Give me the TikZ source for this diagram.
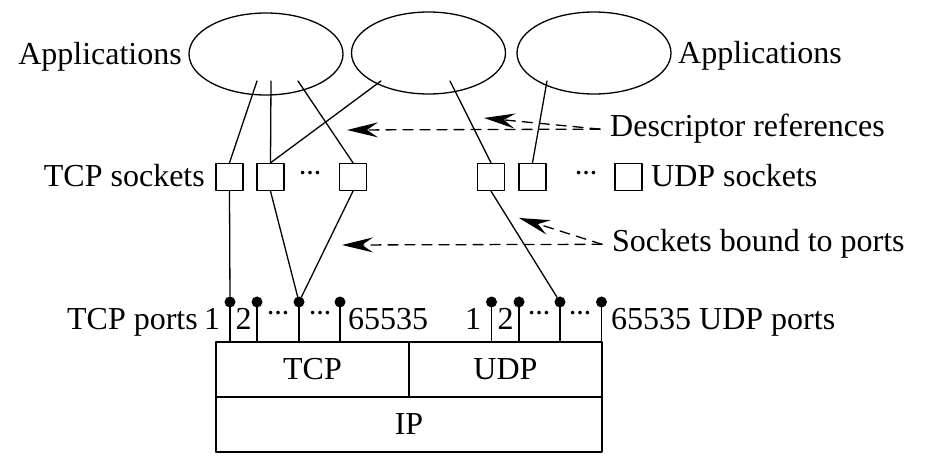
\documentclass[tikz,border=0pt]{standalone}
\usepackage{fontspec}
\setmainfont{Liberation Serif}
\usetikzlibrary{arrows.meta}
\usetikzlibrary{shapes}
\usetikzlibrary{calc}

\begin{document}
\begin{tikzpicture}[
    >=Stealth,
    line cap=round,
    line join=round,
    x=1pt,
    y=-1pt,
    font=\fontsize{32}{38}\selectfont
]

% =========================================================
% Styles
% =========================================================
\tikzset{
    appshape/.style={ellipse,draw,line width=1.3pt,minimum width=154pt,minimum height=82pt,inner sep=0pt},
    sockbox/.style={rectangle,draw,line width=1.3pt,minimum size=27pt,inner sep=0pt},
    portdot/.style={circle,fill,minimum size=11pt,inner sep=0pt},
    layerbox/.style={rectangle,draw,line width=1.3pt,minimum height=55pt,inner sep=0pt},
    conn/.style={line width=1.3pt},
    refarrow/.style={line width=1.3pt,dash pattern=on 10pt off 7pt,-{Stealth[length=31pt,width=15pt,inset=11pt]}},
    labeltext/.style={inner sep=0pt},
    dotstext/.style={inner sep=0pt,font=\fontsize{22}{26}\selectfont\bfseries}
}

\useasboundingbox (0,0) rectangle (932,470);

% =========================================================
% Protocol layers
% =========================================================
\node[layerbox,minimum width=193pt] (tcp) at (312.5,369.5) {TCP};
\node[layerbox,minimum width=193pt] (udp) at (505.5,369.5) {UDP};
\node[layerbox,minimum width=386pt] (ip) at (409,424.5) {IP};

% =========================================================
% Ports
% =========================================================
\foreach \name/\xx in {tp1/230,tp2/257,tp3/299,tp4/340,up1/491.5,up2/519,up3/560,up4/601.5}{
    \node[portdot] (\name) at (\xx,302) {};
    \draw[conn] (\name.center) -- (\name |- tcp.north);
}

% port numbers
\node[labeltext,anchor=base east] (tcpportlab) at (198,330) {TCP ports};
\node[labeltext,anchor=base] (tn1) at (212,330) {1};
\node[labeltext,anchor=base] (tn2) at (243.5,330) {2};
\node[dotstext,anchor=base] (tdots1) at (278,315) {…};
\node[dotstext,anchor=base] (tdots2) at (320,315) {…};
\node[labeltext,anchor=base west] (tnlast) at (348,330) {65535};
\node[labeltext,anchor=base] (un1) at (473,330) {1};
\node[labeltext,anchor=base] (un2) at (505.5,330) {2};
\node[dotstext,anchor=base] (udots1) at (539,315) {…};
\node[dotstext,anchor=base] (udots2) at (580,315) {…};
\node[labeltext,anchor=base west] (unlast) at (611,330) {65535 UDP ports};

% =========================================================
% Sockets
% =========================================================
\foreach \name/\xx in {ts1/229.5,ts2/270.5,ts3/353,us1/491,us2/532.5,us3/628.5}
    \node[sockbox] (\name) at (\xx,177) {};
\node[dotstext,anchor=base] (tsdots) at (310,175) {…};
\node[dotstext,anchor=base] (usdots) at (586,175) {…};
\node[labeltext,anchor=base east] (tcpsocklab) at (205,187) {TCP sockets};
\node[labeltext,anchor=base west] (udpsocklab) at (651,187) {UDP sockets};

% =========================================================
% Applications
% =========================================================
\node[appshape] (app1) at (266,54) {};
\node[appshape] (app2) at (428.5,53) {};
\node[appshape] (app3) at (594,53) {};
\node[labeltext,anchor=base east] (applab1) at (182,65) {Applications};
\node[labeltext,anchor=base west] (applab2) at (678,64) {Applications};

% descriptor ends inside the applications
\coordinate (a1s1) at ($(app1.center)+(-9,27)$);
\coordinate (a1s2) at ($(app1.center)+(5,27)$);
\coordinate (a1s3) at ($(app1.center)+(32,27)$);
\coordinate (a2s1) at ($(app2.center)+(-47.5,28)$);
\coordinate (a2s2) at ($(app2.center)+(21.5,28)$);
\coordinate (a3s1) at ($(app3.center)+(-47,28)$);

% application -> socket
\draw[conn] (a1s1) -- (ts1.north);
\draw[conn] (a1s2) -- (ts2.north);
\draw[conn] (a1s3) -- (ts3.north);
\draw[conn] (a2s1) -- (ts2.north);
\draw[conn] (a2s2) -- (us1.north);
\draw[conn] (a3s1) -- (us2.north);

% socket -> port
\draw[conn] (ts1.south) -- (tp1);
\draw[conn] (ts2.south) -- (tp3);
\draw[conn] (ts3.south) -- (tp3);
\draw[conn] (us1.south) -- (up3);

% =========================================================
% Annotations
% =========================================================
\node[labeltext,inner xsep=10pt,anchor=base west] (desclab) at (600,137) {Descriptor references};
\node[labeltext,inner xsep=10pt,anchor=base west] (boundlab) at (602,252) {Sockets bound to ports};
\coordinate (descend1) at (347,130);
\coordinate (descend2) at (484,118);
\coordinate (boundend1) at (342,245);
\coordinate (boundend2) at (519,218);
\draw[refarrow] (desclab.west) -- (descend1);
\draw[refarrow] (desclab.west) -- (descend2);
\draw[refarrow] (boundlab.west) -- (boundend1);
\draw[refarrow] (boundlab.west) -- (boundend2);

\end{tikzpicture}
\end{document}
